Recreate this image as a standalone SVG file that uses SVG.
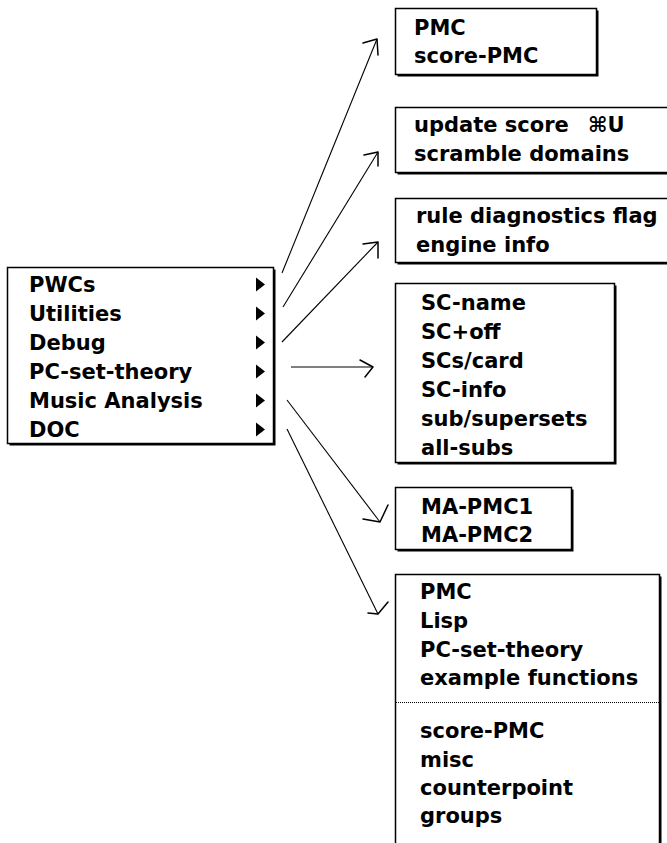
<svg xmlns="http://www.w3.org/2000/svg" width="667" height="843" viewBox="0 0 667 843">
<defs>
<style>
.box{fill:#fff;stroke:#000;stroke-width:1.5}
.sh{fill:#000}
.t{font-family:"DejaVu Sans","Liberation Sans",sans-serif;font-weight:bold;font-size:21px;fill:#000}
.c{stroke:#000;stroke-width:1.1;fill:none}
.h{stroke:#000;stroke-width:1.5;fill:none;stroke-linecap:round;stroke-linejoin:round}
.tri{fill:#000}
.sep{stroke:#000;stroke-width:1;stroke-dasharray:1 1}
</style>
</defs>
<rect width="667" height="843" fill="#fff"/>

<g id="main-menu">
<rect class="sh" x="9.5" y="269.5" width="266" height="176"/>
<rect class="box" x="7.5" y="267.5" width="266" height="176"/>
<text class="t" x="29" y="292">PWCs</text>
<text class="t" x="29" y="321">Utilities</text>
<text class="t" x="29" y="350">Debug</text>
<text class="t" x="29" y="379">PC-set-theory</text>
<text class="t" x="29" y="408">Music Analysis</text>
<text class="t" x="29" y="437">DOC</text>
<polygon class="tri" points="256,277.5 265,284.5 256,291.5"/>
<polygon class="tri" points="256,306.5 265,313.5 256,320.5"/>
<polygon class="tri" points="256,335.5 265,342.5 256,349.5"/>
<polygon class="tri" points="256,364.5 265,371.5 256,378.5"/>
<polygon class="tri" points="256,393.5 265,400.5 256,407.5"/>
<polygon class="tri" points="256,422.5 265,429.5 256,436.5"/>
</g>

<g id="pwcs-menu">
<rect class="sh" x="397.5" y="10.5" width="201" height="66"/>
<rect class="box" x="395.5" y="8.5" width="201" height="66"/>
<text class="t" x="414" y="35">PMC</text>
<text class="t" x="414" y="63">score-PMC</text>
</g>

<g id="utilities-menu">
<rect class="sh" x="397.5" y="109.5" width="300" height="65"/>
<rect class="box" x="395.5" y="107.5" width="300" height="65"/>
<text class="t" x="414" y="132">update score</text>
<text class="t" x="588" y="132">⌘U</text>
<text class="t" x="414" y="161">scramble domains</text>
</g>

<g id="debug-menu">
<rect class="sh" x="397.5" y="200.5" width="300" height="64"/>
<rect class="box" x="395.5" y="198.5" width="300" height="64"/>
<text class="t" x="416" y="223">rule diagnostics flag</text>
<text class="t" x="416" y="252">engine info</text>
</g>

<g id="pc-set-theory-menu">
<rect class="sh" x="397.5" y="285.5" width="219" height="179"/>
<rect class="box" x="395.5" y="283.5" width="219" height="179"/>
<text class="t" x="421" y="310">SC-name</text>
<text class="t" x="421" y="339">SC+off</text>
<text class="t" x="421" y="368">SCs/card</text>
<text class="t" x="421" y="397">SC-info</text>
<text class="t" x="421" y="426">sub/supersets</text>
<text class="t" x="421" y="455">all-subs</text>
</g>

<g id="music-analysis-menu">
<rect class="sh" x="397.5" y="489.5" width="176" height="62"/>
<rect class="box" x="395.5" y="487.5" width="176" height="62"/>
<text class="t" x="421" y="514">MA-PMC1</text>
<text class="t" x="421" y="542">MA-PMC2</text>
</g>

<g id="doc-menu">
<rect class="sh" x="397.5" y="576.5" width="264" height="290"/>
<rect class="box" x="395.5" y="574.5" width="264" height="290"/>
<text class="t" x="420" y="599">PMC</text>
<text class="t" x="420" y="628">Lisp</text>
<text class="t" x="420" y="657">PC-set-theory</text>
<text class="t" x="420" y="685">example functions</text>
<line class="sep" x1="396" y1="702.5" x2="659" y2="702.5"/>
<text class="t" x="420" y="738">score-PMC</text>
<text class="t" x="420" y="767">misc</text>
<text class="t" x="420" y="795">counterpoint</text>
<text class="t" x="420" y="823">groups</text>
</g>

<g id="connectors">
<line class="c" x1="282" y1="273" x2="377" y2="39"/>
<polyline class="h" points="363,43 377,39 378,55"/>
<line class="c" x1="283" y1="307" x2="378" y2="152"/>
<polyline class="h" points="364,155 378,152 378,166"/>
<line class="c" x1="282" y1="342" x2="378" y2="242"/>
<polyline class="h" points="363,244 378,242 378,258"/>
<line class="c" x1="291" y1="367" x2="373" y2="367"/>
<polyline class="h" points="360,360 373,367 365,377"/>
<line class="c" x1="287" y1="400" x2="380" y2="522"/>
<polyline class="h" points="363,519 380,522 388,505"/>
<line class="c" x1="287" y1="429" x2="378" y2="614"/>
<polyline class="h" points="368,613 378,614 388,602"/>
</g>
</svg>
